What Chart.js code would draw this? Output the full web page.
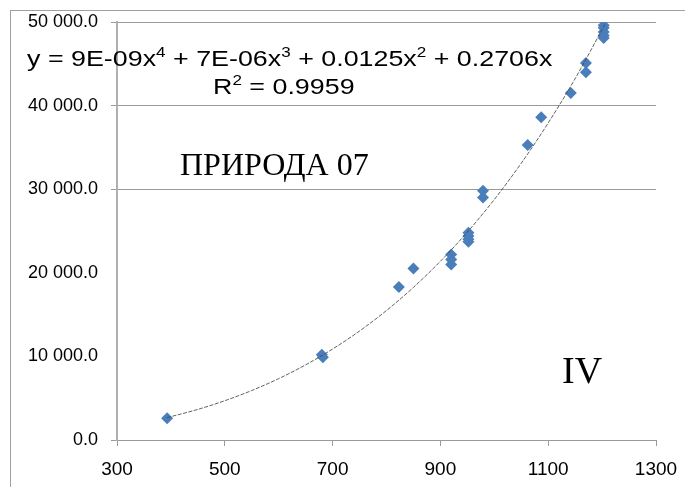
<!DOCTYPE html>
<html>
<head>
<meta charset="utf-8">
<script src="https://cdn.jsdelivr.net/npm/chart.js@4.4.0/dist/chart.umd.min.js"></script>
<style>
  body { margin: 0; background: #fff; }
  #wrap { position: relative; width: 685px; height: 487px; }
  #frame { position: absolute; left: 10px; top: 10px; width: 700px; height: 500px;
           border-top: 1px solid #a0a0a0; border-left: 1px solid #a0a0a0; }
  canvas { position: absolute; left: 0; top: 0; }
</style>
</head>
<body>
<div id="wrap">
  <div id="frame"></div>
  <canvas id="c" width="685" height="487"></canvas>
</div>
<script>
const xVals = [393, 680, 682, 823, 850, 920, 920, 920, 952, 952, 952, 952, 979, 979, 1062, 1087, 1142, 1170, 1170, 1203, 1203, 1203, 1203, 1203];
const yVals = [2600, 10200, 9900, 18300, 20500, 22200, 21600, 21000, 24800, 24400, 24000, 23700, 29800, 29000, 35300, 38600, 41500, 44000, 45100, 49600, 49300, 48800, 48400, 48100];

const trendX = [393, 450, 500, 550, 600, 650, 700, 750, 800, 850, 900, 950, 1000, 1050, 1100, 1150, 1205];
const trendY = [2680, 3660, 4700, 5920, 7340, 8990, 10880, 13040, 15490, 18260, 21380, 24870, 28770, 33110, 37920, 43230, 49700];

const xTicks = [300, 500, 700, 900, 1100, 1300];
const yTicks = [0, 10000, 20000, 30000, 40000, 50000];
const yGridShown = [0, 30000, 40000, 50000]; // на оригинале линии 10000 и 20000 не видны

const eqParts = [['y = 9E-09x', 0], ['4', 1], [' + 7E-06x', 0], ['3', 1], [' + 0.0125x', 0], ['2', 1], [' + 0.2706x', 0]];

function fmt(v) {
  return String(Math.round(v)).replace(/\B(?=(\d{3})+(?!\d))/g, ' ') + '.0';
}

const textPlugin = {
  id: 'texts',
  afterDraw(chart) {
    const ctx = chart.ctx;
    ctx.save();
    ctx.fillStyle = '#000';
    ctx.textBaseline = 'alphabetic';
    ctx.textAlign = 'left';
    // уравнение (в оригинале текст растянут по горизонтали)
    const sx = 1.22;
    ctx.save();
    ctx.translate(27, 0);
    ctx.scale(sx, 1);
    let x = 0;
    eqParts.forEach(p => {
      ctx.font = p[1] ? '14px "Liberation Sans", Arial' : '22px "Liberation Sans", Arial';
      ctx.fillText(p[0], x, p[1] ? 57 : 66);
      x += ctx.measureText(p[0]).width;
    });
    ctx.restore();
    ctx.save();
    ctx.translate(213, 0);
    ctx.scale(sx, 1);
    ctx.font = '22px "Liberation Sans", Arial';
    ctx.fillText('R', 0, 94);
    let rw = ctx.measureText('R').width;
    ctx.font = '14px "Liberation Sans", Arial';
    ctx.fillText('2', rw, 85);
    let sw = ctx.measureText('2').width;
    ctx.font = '22px "Liberation Sans", Arial';
    ctx.fillText(' = 0.9959', rw + sw, 94);
    ctx.restore();

    ctx.font = '32px "Liberation Serif", "Times New Roman", serif';
    ctx.fillText('ПРИРОДА 07', 180, 175);
    ctx.font = '38px "Liberation Serif", "Times New Roman", serif';
    ctx.fillText('IV', 562, 383);
    ctx.restore();
  }
};

const ctx = document.getElementById('c').getContext('2d');
new Chart(ctx, {
  type: 'scatter',
  data: {
    datasets: [
      {
        label: 'тренд',
        type: 'line',
        data: trendX.map((v, i) => ({ x: v, y: trendY[i] })),
        borderColor: 'rgba(70,70,70,0.85)',
        borderWidth: 1,
        borderDash: [4, 1.5],
        pointRadius: 0,
        fill: false,
        cubicInterpolationMode: 'monotone',
        order: 0
      },
      {
        label: 'данные',
        data: xVals.map((v, i) => ({ x: v, y: yVals[i] })),
        pointStyle: 'rectRot',
        pointRadius: 6,
        backgroundColor: '#4A7EBB',
        borderColor: '#4A7EBB',
        borderWidth: 0,
        order: 1
      }
    ]
  },
  options: {
    responsive: false,
    animation: false,
    layout: { padding: { top: 22, right: 29, left: 0, bottom: 0 } },
    plugins: { legend: { display: false }, tooltip: { enabled: false } },
    scales: {
      x: {
        type: 'linear',
        min: 300, max: 1300,
        afterBuildTicks: s => { s.ticks = xTicks.map(v => ({ value: v })); },
        afterFit: s => { s.height = 47; s.paddingLeft = 0; s.paddingRight = 0; },
        ticks: {
          color: '#000', font: { family: '"Liberation Sans", Arial', size: 19 }, padding: 12, maxRotation: 0,
          callback: v => String(v)
        },
        grid: { drawOnChartArea: false, tickLength: 6, color: '#9a9a9a' },
        border: { color: '#9a9a9a' }
      },
      y: {
        min: 0, max: 50000,
        afterBuildTicks: s => { s.ticks = yTicks.map(v => ({ value: v })); },
        afterFit: s => { s.width = 117; s.paddingTop = 0; s.paddingBottom = 0; },
        ticks: {
          color: '#000', font: { family: '"Liberation Sans", Arial', size: 18 }, padding: 13,
          callback: v => fmt(v)
        },
        grid: {
          tickLength: 6,
          color: c => yGridShown.includes(c.tick.value) ? '#9a9a9a' : 'rgba(0,0,0,0)',
          tickColor: c => yGridShown.includes(c.tick.value) ? '#9a9a9a' : 'rgba(0,0,0,0)'
        },
        border: { color: '#b0b0b0', width: 2 }
      }
    }
  },
  plugins: [textPlugin]
});
</script>
</body>
</html>
